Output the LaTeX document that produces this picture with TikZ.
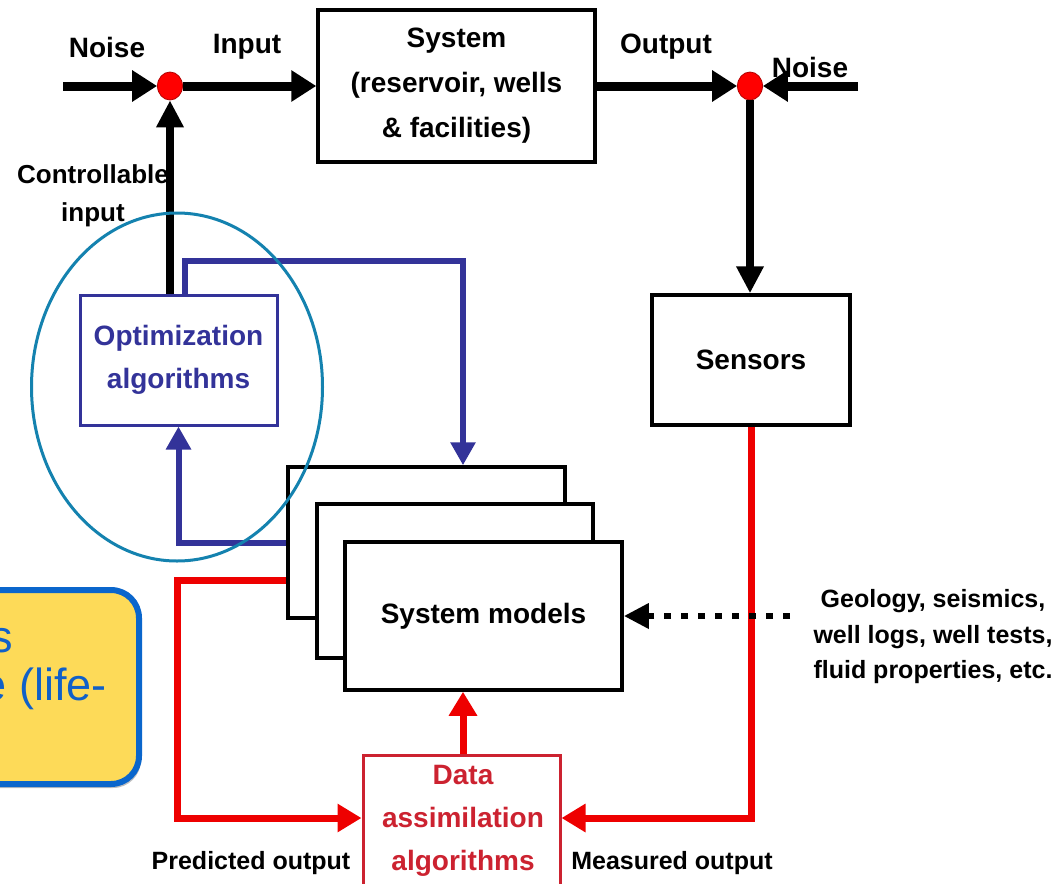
\documentclass[tikz,border=0pt]{standalone}
\usepackage{fontspec}
\setmainfont{Liberation Sans}
\usetikzlibrary{arrows.meta,shapes.geometric,shadows}
\definecolor{navy}{RGB}{51,51,153}
\definecolor{rline}{RGB}{238,0,0}
\definecolor{dared}{RGB}{204,34,48}
\definecolor{tealc}{RGB}{20,130,175}
\definecolor{yfill}{RGB}{253,218,88}
\definecolor{yborder}{RGB}{10,102,204}
\definecolor{ytext}{RGB}{16,96,200}
\begin{document}
\begin{tikzpicture}[x=1pt,y=-1pt,
  lbl/.style={font=\bfseries\fontsize{28}{45}\selectfont, inner sep=0pt, align=center},
  slbl/.style={font=\bfseries\fontsize{25}{35.5}\selectfont, inner sep=0pt, align=center},
  bbox/.style={draw=black, line width=3.5pt, fill=white, inner sep=0pt, align=center},
  optbox/.style={draw=navy, line width=3pt, fill=white, inner sep=0pt, align=center, text=navy},
  dabox/.style={draw=dared, line width=3pt, fill=white, inner sep=0pt},
  junc/.style={ellipse, fill=red, draw=red!70!black, line width=0.8pt, minimum width=25pt, minimum height=28pt, inner sep=0pt},
  blk/.style={draw=black, line width=9pt, -{Triangle[length=25pt,width=30pt]}},
  vblk/.style={draw=black, line width=7.5pt, -{Triangle[length=27pt,width=26pt]}},
  blu/.style={draw=navy, line width=6pt, -{Triangle[length=23pt,width=24pt]}},
  redl/.style={draw=rline, line width=7pt, -{Triangle[length=24pt,width=27pt]}},
  dotarr/.style={draw=black, line width=6.5pt, dash pattern=on 7pt off 10pt, -{Triangle[length=25pt,width=24pt]}},
  ytxt/.style={font=\fontsize{45}{48}\selectfont, text=ytext, inner sep=0pt}
]
\clip (0,0) rectangle (1062,883);
\fill[white] (0,0) rectangle (1062,883);

% boxes
\node[bbox, lbl, minimum width=277pt, minimum height=152pt] (sys) at (456.5,86) {System\\(reservoir, wells\\\& facilities)};
\node[bbox, lbl, minimum width=198pt, minimum height=130pt] (sens) at (751,360) {Sensors};
\node[optbox, lbl, font=\bfseries\fontsize{28}{43}\selectfont, minimum width=197pt, minimum height=130pt] (opt) at (178.5,360) {Optimization\\algorithms};
\node[bbox, minimum width=277pt, minimum height=151pt] (m1) at (426.5,542.5) {};
\node[bbox, minimum width=276pt, minimum height=154pt] (m2) at (455,581) {};
\node[bbox, lbl, minimum width=277pt, minimum height=148pt] (m3) at (483.5,616) {System models};
\node[dabox, minimum width=197pt, minimum height=140pt] (da) at (461.5,825) {};
\node[lbl, text=dared, font=\bfseries\fontsize{28}{43}\selectfont] (dat) at (463,821) {Data\\assimilation\\algorithms};

% junctions
\node[junc] (c1) at (170,86) {};
\node[junc] (c2) at (750,86) {};

% black connectors
\coordinate (nl) at (63,86);
\coordinate (nr) at (858,86);
\draw[blk] (nl) -- (c1);
\draw[blk] (c1) -- (sys);
\draw[blk] (sys) -- (c2);
\draw[blk] (nr) -- (c2);
\draw[vblk] (c2) -- (c2 |- sens.north);
\draw[vblk] (c1 |- opt.north) -- (c1);

% blue connectors
\coordinate (bt) at (463,261);
\draw[blu] ([xshift=6.5pt]opt.north) |- (bt) -- (bt |- m1.north);
\draw[blu] (m1.west) -| (opt.south);

% red connectors
\coordinate (rl) at (177,580);
\draw[redl] (m1.west |- rl) -- (rl) |- ([yshift=7pt]da.west);
\draw[redl] (sens.south) |- ([yshift=7pt]da.east);
\draw[redl] (dat.north |- da.north) -- (dat.north |- m3.south);

% dotted
\coordinate (geo) at (790,616);
\draw[dotarr] (geo) -- (m3.east |- geo);

% labels
\node[lbl] (tn1) at (107,47) {Noise};
\node[lbl] (tin) at (247,47) {Input};
\node[lbl] (tout) at (666,47) {Output};
\node[lbl] (tn2) at (810,67) {Noise};
\node[slbl, font=\bfseries\fontsize{26}{38}\selectfont] (tci) at (93,196) {Controllable\\input};
\node[slbl] (tgeo) at (933,637) {Geology, seismics,\\well logs, well tests,\\fluid properties, etc.};
\node[slbl] (tpo) at (251,863) {Predicted output};
\node[slbl] (tmo) at (672,863) {Measured output};

% note box (cut at left edge)
\node[draw=yborder, line width=6pt, fill=yfill, rounded corners=28pt, minimum width=179pt, minimum height=194pt,
      drop shadow={shadow xshift=2pt,shadow yshift=-4pt,fill=black,opacity=0.25}] (note) at (49.5,687) {};
\node[ytxt, anchor=base east] (note1) at (13,652) {s};
\node[ytxt, anchor=base east] (note2) at (107,700) {e (life-};

% highlight ellipse
\node[draw=tealc, line width=3pt, ellipse, minimum width=291pt, minimum height=348pt, inner sep=0pt] (ring) at (177,387) {};
\end{tikzpicture}
\end{document}
